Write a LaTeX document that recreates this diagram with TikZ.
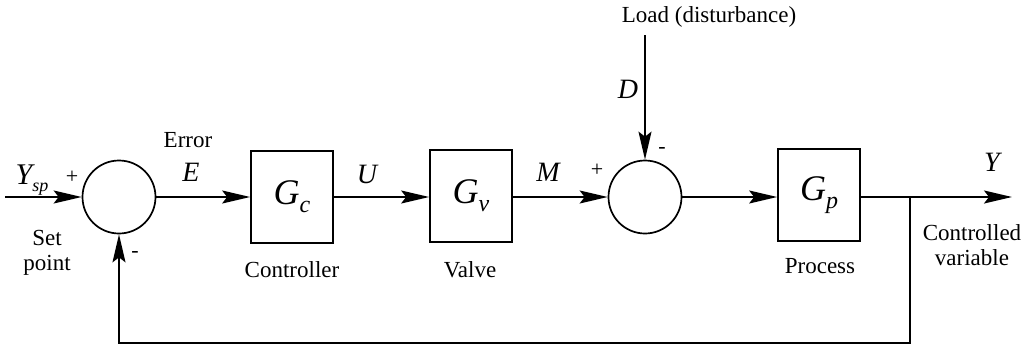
\documentclass[tikz,border=0pt]{standalone}
\usepackage{fontspec}
\setmainfont{Liberation Serif}
\newfontfamily\tms{Liberation Serif}
\usetikzlibrary{arrows.meta}
\newcommand{\blk}[2]{{\tms\fontsize{36}{40}\selectfont\itshape #1}\raisebox{-8pt}{\tms\fontsize{24}{28}\selectfont\itshape #2}}
\begin{document}
\begin{tikzpicture}[x=1pt,y=-1pt, line width=1.7pt,
  arr/.style={-{Stealth[length=28pt,width=13pt,inset=5pt]}},
  blockbox/.style={draw, minimum width=82pt, minimum height=92pt, inner sep=0pt},
  sumnode/.style={draw, circle, minimum size=73pt, inner sep=0pt},
  lbl/.style={font=\tms\fontsize{23}{25}\selectfont, align=center, inner sep=0pt},
  mlbl/.style={font=\tms\fontsize{28}{30}\selectfont\itshape, inner sep=0pt},
  sgn/.style={font=\tms\fontsize{22}{22}\selectfont, inner sep=0pt}]
\useasboundingbox (0,0) rectangle (1026,351);
\coordinate (in) at (5,197);
\node[sumnode] (s1) at (119,197) {};
\node[blockbox] (gc) at (292,197) {\blk{G}{c}};
\node[blockbox] (gv) at (471,196) {\blk{G}{v}};
\node[sumnode] (s2) at (645,197) {};
\node[blockbox] (gp) at (819,195) {\blk{G}{p}};
\coordinate (out) at (1012,197);
\coordinate (br) at (910,197);
\coordinate (bb) at (910,343);
\coordinate (dtop) at (645,35);
\draw[arr] (in) -- (s1.west);
\draw[arr] (s1.east) -- (gc.west |- s1.east);
\draw[arr] (gc.east |- s1.east) -- (gv.west |- s1.east);
\draw[arr] (gv.east |- s1.east) -- (s2.west);
\draw[arr] (s2.east) -- (gp.west |- s2.east);
\draw[arr] (gp.east |- s2.east) -- (out);
\draw[arr] (br) -- (bb) -| (s1.south);
\draw[arr] (dtop) -- (s2.north);
% labels
\node[inner sep=0pt] (ysp) at (32,180) {{\tms\fontsize{30}{32}\selectfont\itshape Y}\raisebox{-7pt}{\tms\fontsize{18}{20}\selectfont\itshape sp}};
\node[sgn] (p1) at (72,177) {+};
\node[sgn] (m1) at (135,254) {-};
\node[lbl] (sp) at (47,253) {Set\\point};
\node[lbl] (err) at (188,140) {Error};
\node[mlbl] (e) at (191,172) {E};
\node[mlbl] (u) at (367,174) {U};
\node[mlbl] (m) at (548,172) {M};
\node[sgn] (p2) at (597,170) {+};
\node[sgn] (m2) at (662,150) {-};
\node[mlbl] (d) at (628,89) {D};
\node[lbl] (load) at (709,17) {Load (disturbance)};
\node[lbl] (ctl) at (292,270) {Controller};
\node[lbl] (vlv) at (470,270) {Valve};
\node[lbl] (prc) at (820,266) {Process};
\node[mlbl] (y) at (992,162) {Y};
\node[lbl] (cv) at (972,245) {Controlled\\variable};
\end{tikzpicture}
\end{document}
